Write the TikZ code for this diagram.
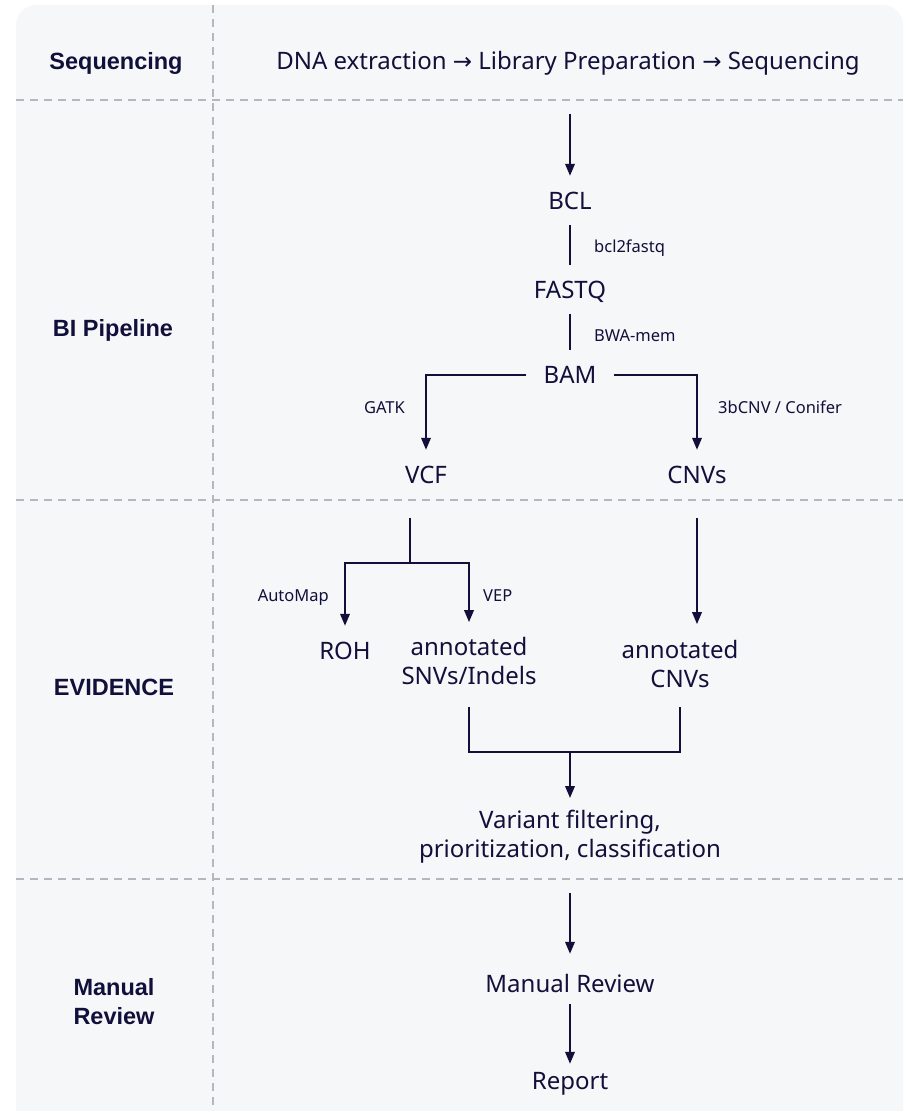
\documentclass[tikz,border=0pt]{standalone}
\usepackage{fontspec}
\setmainfont{Noto Sans}
\newfontfamily\symfont{DejaVu Sans}
\newfontfamily\sidefont{Liberation Sans}
\usetikzlibrary{arrows.meta}
\definecolor{navy}{HTML}{10103A}
\definecolor{bgc}{HTML}{F6F7F9}
\definecolor{sepc}{HTML}{B4B7C0}
\tikzset{
  mainnode/.style={font=\fontsize{24}{29}\selectfont, text=navy, inner xsep=0pt, inner ysep=16pt, text height=17pt, text depth=0pt, anchor=base},
  multinode/.style={font=\fontsize{24}{29}\selectfont, text=navy, inner sep=0pt, align=center},
  sidenode/.style={font=\sidefont\bfseries\fontsize{23.5}{29}\selectfont, text=navy, inner sep=0pt, align=center},
  toolnode/.style={font=\fontsize{16.5}{19}\selectfont, text=navy, inner sep=0pt},
  ln/.style={draw=navy, line width=2pt},
  arr/.style={draw=navy, line width=2pt, -{Triangle[width=9.5pt,length=12pt]}},
  sepline/.style={draw=sepc, line width=1.5pt, dash pattern=on 8pt off 6pt}
}
\begin{document}
\begin{tikzpicture}[x=1pt,y=-1pt]
\useasboundingbox (0,0) rectangle (913,1111);
\fill[bgc, rounded corners=20pt] (16,5) rectangle (903,1150);

% separators
\draw[sepline] (16,100) -- (903,100);
\draw[sepline] (16,500) -- (903,500);
\draw[sepline] (16,879) -- (903,879);
\draw[sepline] (213,5) -- (213,1111);

% row labels
\node[sidenode, anchor=base] (lseq) at (116,69) {Sequencing};
\node[sidenode, anchor=base] (lbi) at (113,336) {BI Pipeline};
\node[sidenode, anchor=base] (lev) at (114,695) {EVIDENCE};
\node[sidenode, anchor=center] (lmr) at (114,1002) {Manual\\Review};

% top line
\node[mainnode, inner ysep=0pt] (seqline) at (568,69) {DNA extraction {\symfont\fontsize{23}{24}\selectfont →} Library Preparation {\symfont\fontsize{23}{24}\selectfont →} Sequencing};

% BI pipeline
\coordinate (seqout) at (570,114);
\node[mainnode] (bcl) at (570,209) {BCL};
\node[mainnode] (fastq) at (570,298) {FASTQ};
\node[mainnode, inner xsep=17pt] (bam) at (570,383) {BAM};
\node[mainnode] (vcf) at (426,483) {VCF};
\node[mainnode] (cnv) at (697,483) {CNVs};

\draw[arr] (seqout) -- (bcl.north);
\draw[ln] (bcl.south) -- (fastq.north);
\draw[ln] (fastq.south) -- (bam.north);
\draw[arr] (bam.west) -| (vcf.north);
\draw[arr] (bam.east) -| (cnv.north);

\node[toolnode, anchor=base west] (tbcl) at (594,252) {bcl2fastq};
\node[toolnode, anchor=base west] (tbwa) at (594,341) {BWA-mem};
\node[toolnode, anchor=base east] (tgatk) at (405,413) {GATK};
\node[toolnode, anchor=base west] (tcnv) at (718,413) {3bCNV / Conifer};

% Evidence
\coordinate (vcfout) at (410,518);
\coordinate (vsplit) at (410,563);
\coordinate (cnvout) at (697,518);
\node[mainnode] (roh) at (345,659) {ROH};
\node[multinode, anchor=south] (snv) at (469,685) {annotated\\SNVs/Indels};
\node[multinode, anchor=south] (acnv) at (680,688) {annotated\\CNVs};

\draw[ln] (vcfout) -- (vsplit);
\draw[arr] (vsplit) -| (roh.north);
\draw[arr, shorten >=15pt] (vsplit) -| (snv.north);
\draw[arr, shorten >=16pt] (cnvout) -- (cnvout |- acnv.north);

\node[toolnode, anchor=base east] (tauto) at (329,601) {AutoMap};
\node[toolnode, anchor=base west] (tvep) at (483,601) {VEP};

\coordinate (jl) at (469,752);
\coordinate (jr) at (680,752);
\coordinate (join) at (570,752);
\draw[ln] ([yshift=-22pt]snv.south) -- (jl) -- (jr) -- ([yshift=-19pt]acnv.south);
\node[multinode, anchor=north] (vf) at (570,810) {Variant filtering,\\prioritization, classification};
\draw[arr, shorten >=12pt] (join) -- (vf.north);

% Manual review
\coordinate (mrin) at (570,893);
\node[mainnode] (mr) at (570,992) {Manual Review};
\node[mainnode] (rep) at (570,1089) {Report};
\draw[arr, shorten >=5pt] (mrin) -- (mr.north);
\draw[arr, shorten <=-4pt, shorten >=-8pt] (mr.south) -- (rep.north);
\end{tikzpicture}
\end{document}
